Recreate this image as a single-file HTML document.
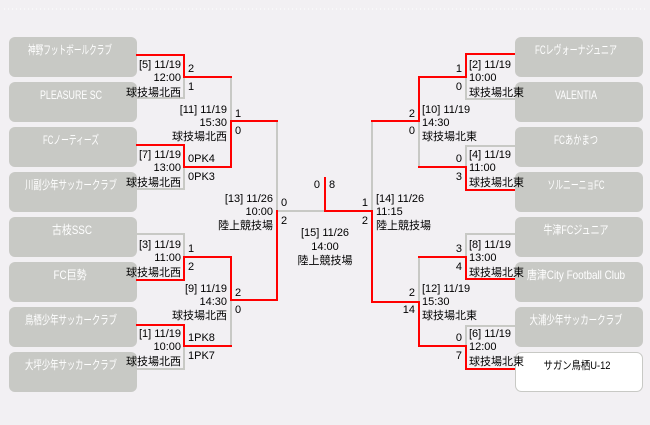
<!DOCTYPE html>
<html><head><meta charset="utf-8"><style>
html,body{margin:0;padding:0;background:#f2f0f3;}
svg{display:block;}
text{font-family:"Liberation Sans","Noto Sans CJK JP",sans-serif;font-size:11px;fill:#000;}
.tn{fill:#fff;text-anchor:middle;font-size:12px;}
.r{text-anchor:end;}
.m{text-anchor:middle;}
</style></head><body>
<svg width="650" height="425" viewBox="0 0 650 425" xmlns="http://www.w3.org/2000/svg">
<rect width="650" height="425" fill="#f2f0f3"/>
<line x1="4" y1="9" x2="646" y2="9" stroke="#fff" stroke-dasharray="1,3"/>
<g fill="#c8c9c5">
<rect x="9" y="37" width="128" height="40" rx="6"/>
<rect x="9" y="82" width="128" height="40" rx="6"/>
<rect x="9" y="127" width="128" height="40" rx="6"/>
<rect x="9" y="172" width="128" height="40" rx="6"/>
<rect x="9" y="217" width="128" height="40" rx="6"/>
<rect x="9" y="262" width="128" height="40" rx="6"/>
<rect x="9" y="307" width="128" height="40" rx="6"/>
<rect x="9" y="352" width="128" height="40" rx="6"/>
<rect x="515" y="37" width="128" height="40" rx="6"/>
<rect x="515" y="82" width="128" height="40" rx="6"/>
<rect x="515" y="127" width="128" height="40" rx="6"/>
<rect x="515" y="172" width="128" height="40" rx="6"/>
<rect x="515" y="217" width="128" height="40" rx="6"/>
<rect x="515" y="262" width="128" height="40" rx="6"/>
<rect x="515" y="307" width="128" height="40" rx="6"/>
</g>
<rect x="515.5" y="352.5" width="127" height="39" rx="6" fill="#fff" stroke="#c8c9c5"/>
<g>
<text class="tn" x="70" y="54" textLength="84" lengthAdjust="spacingAndGlyphs">神野フットボールクラブ</text>
<text class="tn" x="71" y="99" textLength="62" lengthAdjust="spacingAndGlyphs">PLEASURE SC</text>
<text class="tn" x="71" y="144" textLength="56" lengthAdjust="spacingAndGlyphs">FCノーティーズ</text>
<text class="tn" x="71" y="189" textLength="92" lengthAdjust="spacingAndGlyphs">川副少年サッカークラブ</text>
<text class="tn" x="72" y="234" textLength="40" lengthAdjust="spacingAndGlyphs">古枝SSC</text>
<text class="tn" x="70" y="279" textLength="33" lengthAdjust="spacingAndGlyphs">FC巨勢</text>
<text class="tn" x="71" y="324" textLength="92" lengthAdjust="spacingAndGlyphs">鳥栖少年サッカークラブ</text>
<text class="tn" x="71" y="369" textLength="92" lengthAdjust="spacingAndGlyphs">大坪少年サッカークラブ</text>
<text class="tn" x="576" y="54" textLength="82" lengthAdjust="spacingAndGlyphs">FCレヴォーナジュニア</text>
<text class="tn" x="576" y="99" textLength="42" lengthAdjust="spacingAndGlyphs">VALENTIA</text>
<text class="tn" x="576" y="144" textLength="44" lengthAdjust="spacingAndGlyphs">FCあかまつ</text>
<text class="tn" x="576" y="189" textLength="57" lengthAdjust="spacingAndGlyphs">ソルニーニョFC</text>
<text class="tn" x="576" y="234" textLength="65" lengthAdjust="spacingAndGlyphs">牛津FCジュニア</text>
<text class="tn" x="576" y="279" textLength="98" lengthAdjust="spacingAndGlyphs">唐津City Football Club</text>
<text class="tn" x="576" y="324" textLength="93" lengthAdjust="spacingAndGlyphs">大浦少年サッカークラブ</text>
<text class="m" x="577" y="369" font-size="12" textLength="67" lengthAdjust="spacingAndGlyphs">サガン鳥栖U-12</text>
</g>
<g fill="none" stroke-width="2" stroke-linecap="square">
<g stroke="#c8c9c5">
<polyline points="137,98 184,98 184,77"/>
<polyline points="137,189 184,189 184,167"/>
<polyline points="231,77 231,121"/>
<polyline points="277,121 277,211 325,211"/>
<polyline points="137,234 184,234 184,257"/>
<polyline points="137,369 184,369 184,346"/>
<polyline points="231,300 231,346"/>
<polyline points="514,99 466,99 466,77"/>
<polyline points="514,146 466,146 466,167"/>
<polyline points="419,121 419,167"/>
<polyline points="372,121 372,211"/>
<polyline points="514,234 466,234 466,257"/>
<polyline points="514,326 466,326 466,346"/>
<polyline points="419,257 419,302"/>
</g>
<g stroke="#f00">
<polyline points="137,55 184,55 184,77 231,77"/>
<polyline points="137,145 184,145 184,167 231,167 231,121 277,121"/>
<polyline points="137,280 184,280 184,257 231,257 231,300 277,300 277,211"/>
<polyline points="137,325 184,325 184,346 231,346"/>
<polyline points="325,178 325,211 372,211 372,302 419,302 419,346 466,346 466,369 514,369"/>
<polyline points="514,54 466,54 466,77 419,77 419,121 372,121"/>
<polyline points="419,167 466,167 466,190 514,190"/>
<polyline points="419,257 466,257 466,279 514,279"/>
</g>
</g>
<g>
<text class="r" x="181" y="68">[5] 11/19</text><text class="r" x="181" y="81">12:00</text><text class="r" x="181" y="96">球技場北西</text>
<text class="r" x="181" y="158">[7] 11/19</text><text class="r" x="181" y="171">13:00</text><text class="r" x="181" y="186">球技場北西</text>
<text class="r" x="181" y="248">[3] 11/19</text><text class="r" x="181" y="261">11:00</text><text class="r" x="181" y="276">球技場北西</text>
<text class="r" x="181" y="337">[1] 11/19</text><text class="r" x="181" y="350">10:00</text><text class="r" x="181" y="365">球技場北西</text>
<text class="r" x="227" y="113">[11] 11/19</text><text class="r" x="227" y="126">15:30</text><text class="r" x="227" y="140">球技場北西</text>
<text class="r" x="227" y="292">[9] 11/19</text><text class="r" x="227" y="305">14:30</text><text class="r" x="227" y="319">球技場北西</text>
<text class="r" x="273" y="202">[13] 11/26</text><text class="r" x="273" y="215">10:00</text><text class="r" x="273" y="229">陸上競技場</text>
</g>
<text x="188" y="72">2</text><text x="188" y="90">1</text>
<text x="188" y="162">0PK4</text><text x="188" y="180">0PK3</text>
<text x="188" y="252">1</text><text x="188" y="270">2</text>
<text x="188" y="341">1PK8</text><text x="188" y="359">1PK7</text>
<text x="235" y="117">1</text><text x="235" y="134">0</text>
<text x="235" y="296">2</text><text x="235" y="313">0</text>
<text x="281" y="206">0</text><text x="281" y="224">2</text>
<text class="r" x="320" y="188">0</text><text x="329" y="188">8</text>
<text class="m" x="325" y="236">[15] 11/26</text>
<text class="m" x="325" y="250">14:00</text>
<text class="m" x="325" y="264">陸上競技場</text>
<text x="376" y="202">[14] 11/26</text><text x="376" y="215">11:15</text><text x="376" y="229">陸上競技場</text>
<text class="r" x="368" y="206">1</text><text class="r" x="368" y="224">2</text>
<text x="422" y="113">[10] 11/19</text><text x="422" y="126">14:30</text><text x="422" y="140">球技場北東</text>
<text class="r" x="415" y="117">2</text><text class="r" x="415" y="134">0</text>
<text x="422" y="292">[12] 11/19</text><text x="422" y="305">15:30</text><text x="422" y="319">球技場北東</text>
<text class="r" x="415" y="296">2</text><text class="r" x="415" y="313">14</text>
<text x="469" y="68">[2] 11/19</text><text x="469" y="81">10:00</text><text x="469" y="96">球技場北東</text>
<text class="r" x="462" y="72">1</text><text class="r" x="462" y="90">0</text>
<text x="469" y="158">[4] 11/19</text><text x="469" y="171">11:00</text><text x="469" y="186">球技場北東</text>
<text class="r" x="462" y="162">0</text><text class="r" x="462" y="180">3</text>
<text x="469" y="248">[8] 11/19</text><text x="469" y="261">13:00</text><text x="469" y="276">球技場北東</text>
<text class="r" x="462" y="252">3</text><text class="r" x="462" y="270">4</text>
<text x="469" y="337">[6] 11/19</text><text x="469" y="350">12:00</text><text x="469" y="365">球技場北東</text>
<text class="r" x="462" y="341">0</text><text class="r" x="462" y="359">7</text>
</svg>
</body></html>
